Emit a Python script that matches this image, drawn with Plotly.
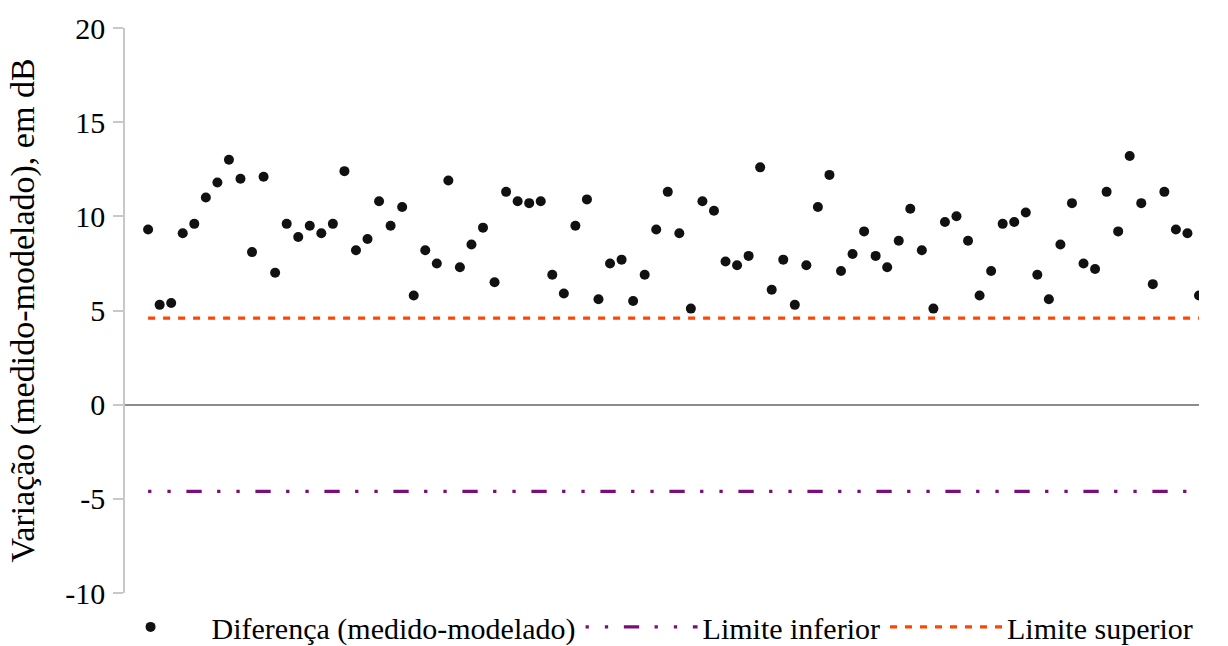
import plotly.graph_objects as go

# Measured-minus-modelled differences (dB) for each sample
amostra = list(range(1, 93))
diferenca = [
    9.3, 5.3, 5.4, 9.1, 9.6, 11.0, 11.8, 13.0, 12.0, 8.1,
    12.1, 7.0, 9.6, 8.9, 9.5, 9.1, 9.6, 12.4, 8.2, 8.8,
    10.8, 9.5, 10.5, 5.8, 8.2, 7.5, 11.9, 7.3, 8.5, 9.4,
    6.5, 11.3, 10.8, 10.7, 10.8, 6.9, 5.9, 9.5, 10.9, 5.6,
    7.5, 7.7, 5.5, 6.9, 9.3, 11.3, 9.1, 5.1, 10.8, 10.3,
    7.6, 7.4, 7.9, 12.6, 6.1, 7.7, 5.3, 7.4, 10.5, 12.2,
    7.1, 8.0, 9.2, 7.9, 7.3, 8.7, 10.4, 8.2, 5.1, 9.7,
    10.0, 8.7, 5.8, 7.1, 9.6, 9.7, 10.2, 6.9, 5.6, 8.5,
    10.7, 7.5, 7.2, 11.3, 9.2, 13.2, 10.7, 6.4, 11.3, 9.3,
    9.1, 5.8,
]

# Tolerance band (dB)
limite_inferior = [-4.6] * len(amostra)
limite_superior = [4.6] * len(amostra)

y_ticks = [-10, -5, 0, 5, 10, 15, 20]
y_ticktext = ["-10", "-5", "0", "5", "10", "15", "20"]

FONT = "Liberation Serif, Times New Roman, serif"

fig = go.Figure()

fig.add_trace(go.Scatter(
    x=amostra, y=diferenca, mode="markers",
    name="Diferença (medido-modelado)",
    marker=dict(color="#111111", size=10, line=dict(width=0)),
))
fig.add_trace(go.Scatter(
    x=amostra, y=limite_inferior, mode="lines",
    name="Limite inferior",
    line=dict(color="#7b0c7b", width=3.3,
              dash="3.3px,16px,3.3px,15.7px,15.3px,15.4px"),
))
fig.add_trace(go.Scatter(
    x=amostra, y=limite_superior, mode="lines",
    name="Limite superior",
    line=dict(color="#ff4500", width=3.3, dash="7px,8px"),
))

fig.update_layout(
    width=1228, height=646,
    margin=dict(l=125, r=29, t=28, b=53, autoexpand=False),
    paper_bgcolor="white", plot_bgcolor="white",
    font=dict(family=FONT, size=30, color="#000000"),
    showlegend=True,
    legend=dict(
        orientation="h", x=-0.033, xanchor="left", y=-0.06, yanchor="middle",
        font=dict(family=FONT, size=30, color="#000000"),
        itemwidth=112, bgcolor="rgba(0,0,0,0)",
    ),
    xaxis=dict(
        range=[-1, 92], showgrid=False, showticklabels=False,
        zeroline=False, showline=False, ticks="",
    ),
    yaxis=dict(
        range=[-10, 20], tickvals=y_ticks, ticktext=y_ticktext, showgrid=False,
        zeroline=True, zerolinecolor="#8c8c8c", zerolinewidth=1.5,
        showline=True, linecolor="#c8c8c8", linewidth=1.5,
        ticks="outside", ticklen=10, tickcolor="#c8c8c8", tickwidth=1.5,
        ticklabelstandoff=2,
        tickfont=dict(family=FONT, size=30),
        title=dict(text="Variação (medido-modelado), em dB",
                   font=dict(family=FONT, size=34), standoff=20),
    ),
)

fig.write_html("out.html")
